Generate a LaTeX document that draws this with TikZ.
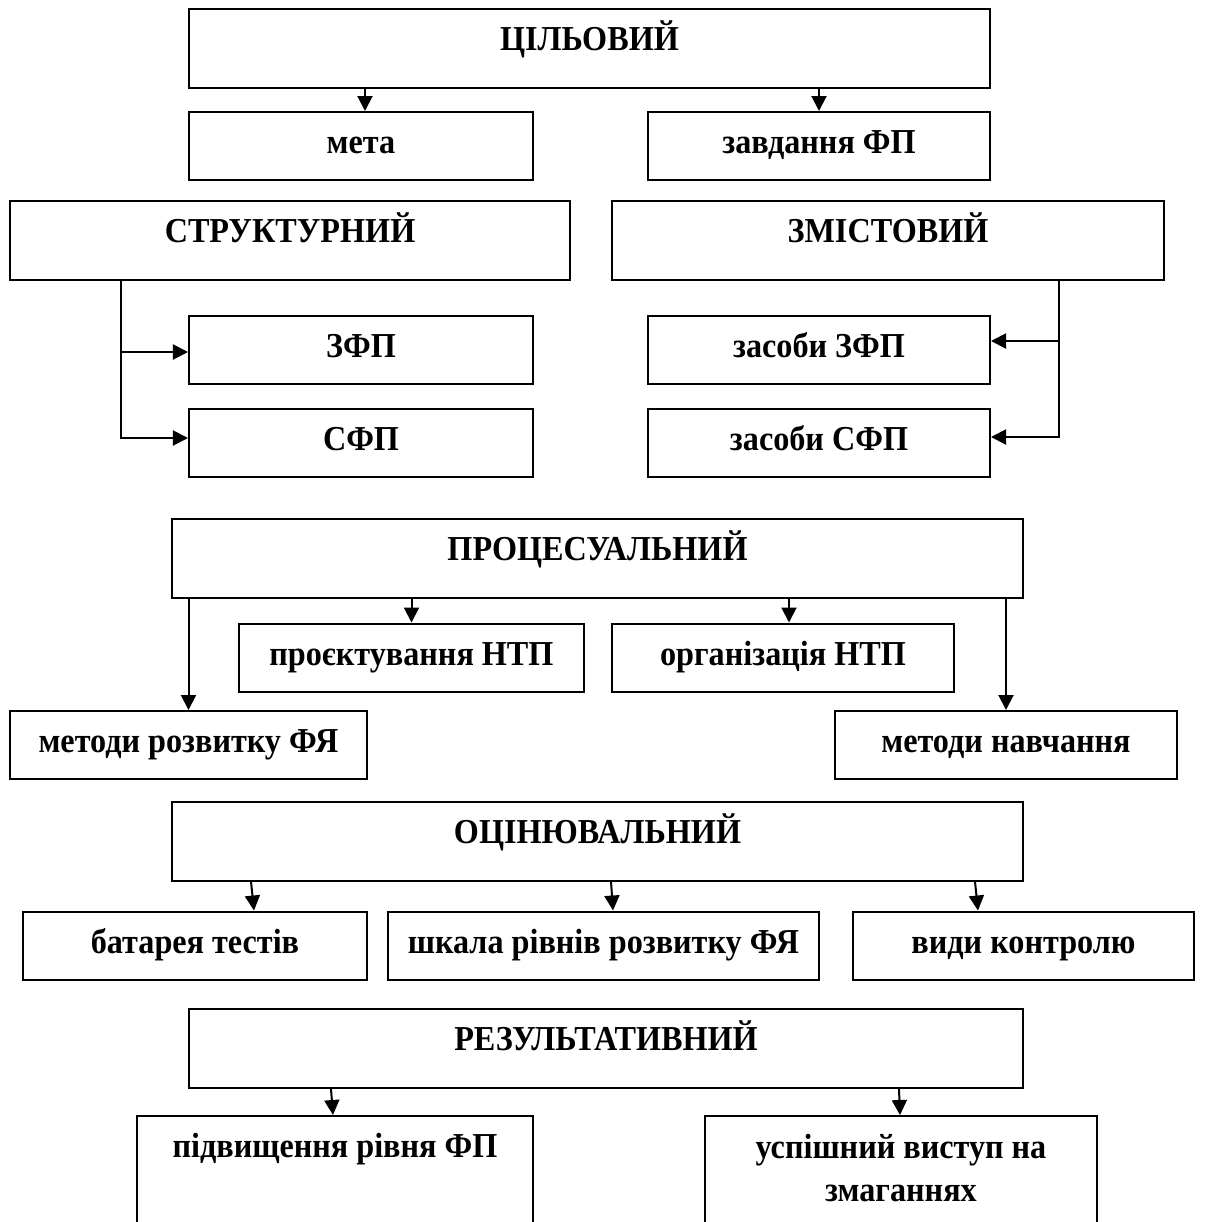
\documentclass[tikz,border=0pt]{standalone}
\usepackage{fontspec}
\setmainfont{Liberation Serif}[FakeStretch=0.92]
\usetikzlibrary{arrows.meta}
\tikzset{
  blk/.style={draw, line width=0.8pt, inner xsep=0pt, inner ysep=0pt,
    text height=16.6pt, font=\fontsize{14}{17.2}\selectfont\bfseries},
  big/.style={blk, text depth=15pt},
  small/.style={blk, text depth=10.6pt},
}
\begin{document}
\begin{tikzpicture}[x=0.4pt,y=-0.4pt,->,>={Triangle[length=6pt,width=6pt]},line width=0.8pt]
  \useasboundingbox (0,0) rectangle (1205,1222);
  \clip (0,0) rectangle (1205,1222);
  \node[big, minimum width=320.4pt] (cil) at (589.5,48.5) {ЦІЛЬОВИЙ};
  \node[small, minimum width=137.6pt] (meta) at (361,146) {мета};
  \node[small, minimum width=136.8pt] (zavd) at (819,146) {завдання ФП};
  \node[big, minimum width=224pt] (struct) at (290,240.5) {СТРУКТУРНИЙ};
  \node[big, minimum width=220.8pt] (zmist) at (888,240.5) {ЗМІСТОВИЙ};
  \node[small, minimum width=137.6pt] (zfp) at (361,349.5) {ЗФП};
  \node[small, minimum width=137.6pt] (sfp) at (361,443) {СФП};
  \node[small, minimum width=136.8pt] (zzfp) at (819,349.5) {засоби ЗФП};
  \node[small, minimum width=136.8pt] (zsfp) at (819,443) {засоби СФП};
  \node[big, minimum width=340.4pt] (proc) at (597.5,558.5) {ПРОЦЕСУАЛЬНИЙ};
  \node[small, minimum width=138pt] (proekt) at (411.5,657.5) {проєктування НТП};
  \node[small, minimum width=136.8pt] (org) at (783,657.5) {організація НТП};
  \node[small, minimum width=142.8pt] (metrozv) at (188.5,745) {методи розвитку ФЯ\hspace{6pt}};
  \node[small, minimum width=136.8pt] (metnav) at (1006,745) {методи навчання};
  \node[big, minimum width=340.4pt] (ocin) at (597.5,841) {ОЦІНЮВАЛЬНИЙ};
  \node[small, minimum width=137.6pt] (bat) at (195,945.5) {батарея тестів};
  \node[small, minimum width=172.4pt] (shk) at (603.5,945.5) {шкала рівнів розвитку ФЯ};
  \node[small, minimum width=136.4pt] (vydy) at (1023.5,945.5) {види контролю};
  \node[big, minimum width=333.6pt] (rez) at (606,1048.5) {РЕЗУЛЬТАТИВНИЙ};
  \node[blk, anchor=north, text depth=40pt, minimum width=158.4pt] (pidv) at (335,1115) {підвищення рівня ФП};
  \node[blk, anchor=north, text height=34pt, text depth=25pt, minimum width=156.8pt, align=center] (usp) at (901,1115) {успішний виступ на\\змаганнях};
  \draw ([xshift=1.6pt]meta.north |- cil.south) -- ([xshift=1.6pt]meta.north);
  \draw (cil.south -| zavd) -- (zavd);
  \draw ([xshift=-67.6pt]struct.south) |- ([yshift=-1pt]zfp.west);
  \draw ([xshift=-67.6pt]struct.south) |- ([yshift=2pt]sfp.west);
  \draw ([xshift=68.4pt]zmist.south) |- ([yshift=3.4pt]zzfp.east);
  \draw ([xshift=68.4pt]zmist.south) |- ([yshift=2.4pt]zsfp.east);
  \draw (proc.south -| metrozv) -- (metrozv);
  \draw (proc.south -| proekt) -- (proekt);
  \draw ([xshift=2.4pt]org.north |- proc.south) -- ([xshift=2.4pt]org.north);
  \draw (proc.south -| metnav) -- (metnav);
  \draw ([xshift=22.4pt]bat.north |- ocin.south) -- ([xshift=23.6pt]bat.north);
  \draw ([xshift=3pt]shk.north |- ocin.south) -- ([xshift=3.8pt]shk.north);
  \draw ([xshift=-19.4pt]vydy.north |- ocin.south) -- ([xshift=-18.2pt]vydy.north);
  \draw ([xshift=-1.6pt]pidv.north |- rez.south) -- ([xshift=-0.8pt]pidv.north);
  \draw ([xshift=-0.8pt]usp.north |- rez.south) -- ([xshift=-0.4pt]usp.north);
\end{tikzpicture}
\end{document}
